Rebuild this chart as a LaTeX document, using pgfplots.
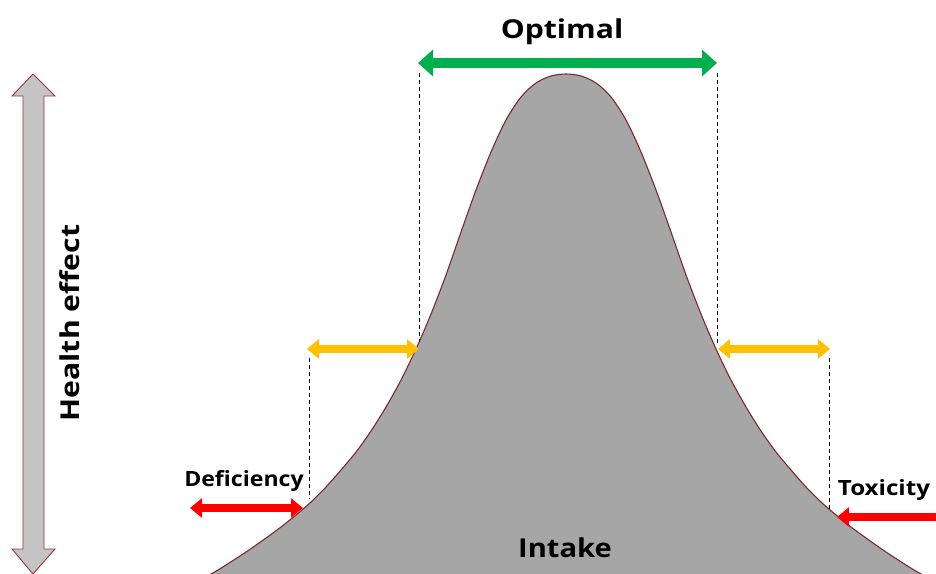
\documentclass[border=0pt]{standalone}
\usepackage{pgfplots}
\pgfplotsset{compat=1.18}
\usepackage{fontspec}
\setmainfont{Open Sans}
\usetikzlibrary{arrows.meta}
\definecolor{curvefill}{HTML}{A6A6A6}
\definecolor{curveline}{HTML}{7B2A2A}
\definecolor{arrowgray}{HTML}{C4C4C4}
\definecolor{arrowline}{HTML}{953735}
\definecolor{optgreen}{HTML}{00B050}
\definecolor{warnyellow}{HTML}{FFC000}
\definecolor{badred}{HTML}{FF0000}
\pgfplotstableread{
x y
196 582
218 570
246 552
266 538
281 527
296 515
311 502
326 487
341 470
356 452
371 431
386 407
401 380
416 349
431 314
446 275
461 232
476 190
491 152
506 120
521 97
536 83
551 76
566 74
581 76
596 83
611 97
626 120
641 152
656 190
671 232
686 275
701 314
716 349
731 380
746 407
761 431
776 452
791 470
806 487
821 502
836 515
851 527
866 538
886 552
914 570
936 582
}\curve
\begin{document}
\begin{tikzpicture}
\begin{axis}[
  scale only axis, width=936pt, height=573pt,
  xmin=0, xmax=936, ymin=0, ymax=573, y dir=reverse,
  axis lines=none, clip=true, clip bounding box=upper bound,
]
\path (rel axis cs:0,0) rectangle (rel axis cs:1,1);
% curve fill
\addplot[fill=curvefill, draw=none, smooth] coordinates {
(196,582) (218,570) (246,552) (266,538) (281,527) (296,515) (311,502) (326,487) (341,470) (356,452) (371,431) (386,407) (401,380) (416,349) (431,314) (446,275) (461,232) (476,190) (491,152) (506,120) (521,97) (536,83) (551,76) (566,74) (581,76) (596,83) (611,97) (626,120) (641,152) (656,190) (671,232) (686,275) (701,314) (716,349) (731,380) (746,407) (761,431) (776,452) (791,470) (806,487) (821,502) (836,515) (851,527) (866,538) (886,552) (914,570) (936,582) (960,600) (960,650) (170,650) (172,600)};
\addplot[draw=curveline, line width=1.1pt, smooth] table[x=x,y=y] {\curve};
% dashed guides
\addplot[black, line width=0.9pt, dash pattern=on 4pt off 3pt] coordinates {(419,73) (419,342)};
\addplot[black, line width=0.9pt, dash pattern=on 4pt off 3pt] coordinates {(717,73) (717,343)};
\addplot[black, line width=0.9pt, dash pattern=on 4pt off 3pt] coordinates {(309,358) (309,499)};
\addplot[black, line width=0.9pt, dash pattern=on 4pt off 3pt] coordinates {(829,358) (829,510)};
% big gray double arrow
\addplot[fill=arrowgray, draw=arrowline, line width=0.9pt, line join=miter] coordinates {
(33,74) (55,96) (44,96) (44,549) (55,549) (33,574) (12,549) (23,549) (23,96) (12,96) (33,74)};
% coloured arrows
\addplot[draw=optgreen, line width=10pt, {Triangle[width=26pt,length=15pt]}-{Triangle[width=26pt,length=15pt]}] coordinates {(418,63) (717,63)};
\addplot[draw=warnyellow, line width=8pt, {Triangle[width=19pt,length=12pt]}-{Triangle[width=19pt,length=12pt]}] coordinates {(307,349) (419,349)};
\addplot[draw=warnyellow, line width=8pt, {Triangle[width=19pt,length=12pt]}-{Triangle[width=19pt,length=12pt]}] coordinates {(718,349) (830,349)};
\addplot[draw=badred, line width=8pt, {Triangle[width=19pt,length=12pt]}-{Triangle[width=19pt,length=12pt]}] coordinates {(190,508) (303,508)};
\addplot[draw=badred, line width=8pt, {Triangle[width=19pt,length=12pt]}-{Triangle[width=19pt,length=12pt]}] coordinates {(837,517) (960,517)};
% labels
\node[font=\fontsize{26}{30}\selectfont\bfseries, xscale=1.16] at (axis cs:562,32) {Optimal};
\node[font=\fontsize{26}{30}\selectfont\bfseries, xscale=1.12] at (axis cs:565,548) {Intake};
\node[font=\fontsize{26}{30}\selectfont\bfseries, rotate=90, xscale=1.16] at (axis cs:70,323) {Health effect};
\node[font=\fontsize{21}{24}\selectfont\bfseries, xscale=1.1] at (axis cs:244,481) {Deficiency};
\node[font=\fontsize{21}{24}\selectfont\bfseries, xscale=1.15] at (axis cs:884,490) {Toxicity};
\end{axis}
\end{tikzpicture}
\end{document}
